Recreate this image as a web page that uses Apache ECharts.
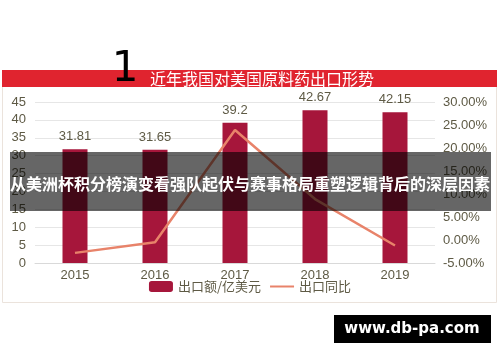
<!DOCTYPE html>
<html><head><meta charset="utf-8">
<script src="https://cdn.jsdelivr.net/npm/echarts@6/dist/echarts.min.js"></script>
<style>html,body{margin:0;padding:0;background:#fff}#c{width:500px;height:362px}</style>
</head><body><div id="c"></div>
<script>
var years = ['2015','2016','2017','2018','2019'];
var exportValue = [31.81, 31.65, 39.2, 42.67, 42.15];
var exportGrowth = [-2.8, -0.5, 23.9, 8.9, -1.2];
var leftTicks = {min: 0, max: 45, interval: 5};
var rightTicks = {min: -5, max: 30, interval: 5};
var titleText = '近年我国对美国原料药出口形势';
var overlayText = '从美洲杯积分榜演变看强队起伏与赛事格局重塑逻辑背后的深层因素';
var seriesNames = ['出口额/亿美元', '出口同比'];

var chart = echarts.init(document.getElementById('c'));
var labelColor = '#5e5a45';
var font = 'Liberation Sans, DejaVu Sans, sans-serif';
chart.setOption({
  animation: false,
  grid: {left: 35, right: 65, top: 102, bottom: 99},
  legend: {
    bottom: 64, left: 'center', itemWidth: 24, itemHeight: 11, itemGap: 8,
    textStyle: {color: labelColor, fontSize: 13, fontFamily: 'Noto Sans CJK SC'},
    data: [{name: seriesNames[0]}, {name: seriesNames[1], itemStyle: {opacity: 0}}]
  },
  xAxis: {
    type: 'category', data: years,
    axisLine: {lineStyle: {color: '#d9d9d9'}},
    axisTick: {show: false},
    axisLabel: {color: labelColor, fontSize: 13, fontFamily: font, margin: 6}
  },
  yAxis: [{
    type: 'value', min: leftTicks.min, max: leftTicks.max, interval: leftTicks.interval,
    axisLine: {show: false}, axisTick: {show: false},
    splitLine: {lineStyle: {color: '#e6e6e6'}},
    axisLabel: {color: labelColor, fontSize: 13, fontFamily: font, margin: 9}
  }, {
    type: 'value', min: rightTicks.min, max: rightTicks.max, interval: rightTicks.interval,
    axisLine: {show: false}, axisTick: {show: false}, splitLine: {show: false},
    axisLabel: {color: labelColor, fontSize: 13, fontFamily: font, margin: 8,
      formatter: function (v) { return v.toFixed(2) + '%'; }}
  }],
  series: [{
    name: seriesNames[0], type: 'bar', data: exportValue, barWidth: 25,
    itemStyle: {color: '#a6163b'},
    label: {show: true, position: 'top', color: labelColor, fontSize: 13, fontFamily: font, distance: 6}
  }, {
    name: seriesNames[1], type: 'line', yAxisIndex: 1, data: exportGrowth,
    symbol: 'none', lineStyle: {color: '#e8836a', width: 2.5},
    itemStyle: {color: '#e8836a'}
  }],
  graphic: [
    {type: 'rect', shape: {x: 2.5, y: 70.5, width: 494, height: 232}, style: {fill: 'none', stroke: '#ebe3dc', lineWidth: 1}, z: 1},
    {type: 'rect', shape: {x: 2, y: 70, width: 495, height: 17}, style: {fill: '#e0242f'}, z: 10},
    {type: 'text', x: 150, y: 78.5, style: {text: titleText, fill: '#fff', fontSize: 16, fontFamily: 'Noto Sans CJK SC', verticalAlign: 'middle'}, z: 11},
    {type: 'text', x: 125, y: 70, style: {text: '1', fill: '#000', fontSize: 42, fontFamily: 'DejaVu Sans', align: 'center', verticalAlign: 'middle'}, z: 12},
    {type: 'rect', shape: {x: 10, y: 152, width: 481, height: 59}, style: {fill: 'rgba(0,0,0,0.6)'}, z: 20},
    {type: 'text', x: 250, y: 184, style: {text: overlayText, fill: '#fff', fontSize: 16, fontWeight: 'bold', fontFamily: 'Noto Sans CJK SC', align: 'center', verticalAlign: 'middle'}, z: 21},
    {type: 'rect', shape: {x: 334, y: 315, width: 157, height: 28}, style: {fill: '#000'}, z: 20},
    {type: 'text', x: 412, y: 329, style: {text: 'www.db-pa.com', fill: '#fff', fontSize: 15, fontWeight: 'bold', fontFamily: 'DejaVu Sans', align: 'center', verticalAlign: 'middle'}, z: 21}
  ]
});
</script></body></html>
